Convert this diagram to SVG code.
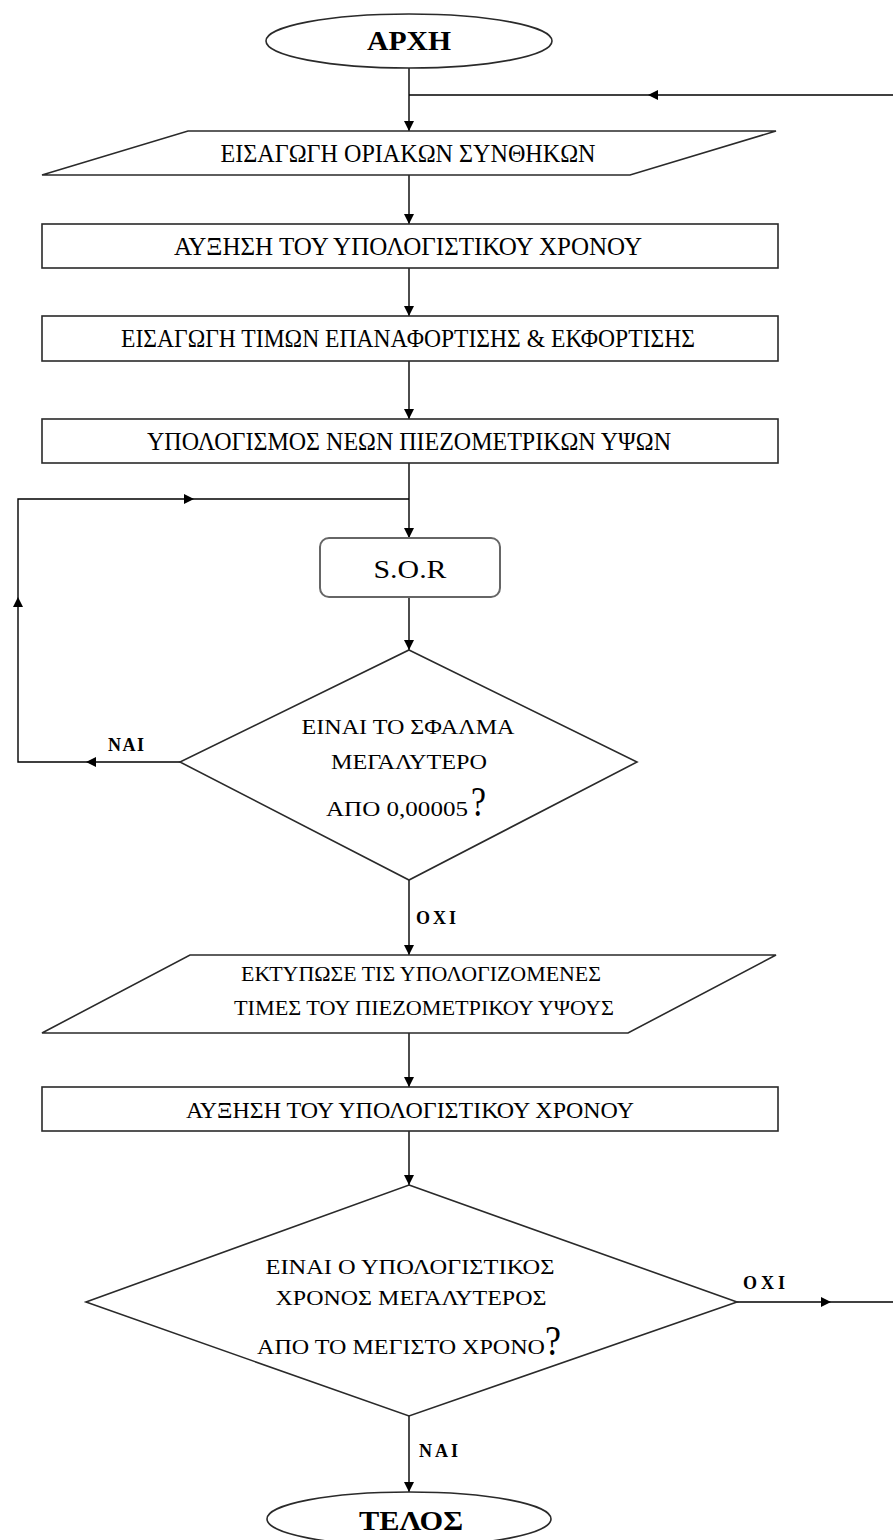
<svg xmlns="http://www.w3.org/2000/svg" width="893" height="1540" viewBox="0 0 893 1540">
<style>
.shape{fill:#fff;stroke:#2a2a2a;stroke-width:1.6}
.ln{fill:none;stroke:#000;stroke-width:1.4}
.t{font-family:"Liberation Serif","Times New Roman",serif;font-size:26px;fill:#000;text-anchor:middle}
.s{font-size:22px}
.tb{font-family:"Liberation Serif","Times New Roman",serif;font-size:28px;font-weight:bold;fill:#000;text-anchor:middle}
.lb{font-family:"Liberation Serif","Times New Roman",serif;font-size:18px;font-weight:bold;fill:#000}
.q{font-family:"Liberation Serif","Times New Roman",serif;font-size:42px;fill:#000}
</style>
<defs>
<marker id="ah" viewBox="0 0 10 10" refX="10" refY="5" markerWidth="10" markerHeight="10" markerUnits="userSpaceOnUse" orient="auto">
<path d="M0,0 L10,5 L0,10 z" fill="#000"/>
</marker>
</defs>
<rect width="893" height="1540" fill="#fff"/>

<g id="connectors">
<line class="ln" x1="409" y1="68" x2="409" y2="131" marker-end="url(#ah)"/>
<line class="ln" x1="893" y1="95" x2="648" y2="95" marker-end="url(#ah)"/>
<line class="ln" x1="648" y1="95" x2="409" y2="95"/>
<line class="ln" x1="409" y1="175" x2="409" y2="224" marker-end="url(#ah)"/>
<line class="ln" x1="409" y1="268" x2="409" y2="316" marker-end="url(#ah)"/>
<line class="ln" x1="409" y1="361" x2="409" y2="419" marker-end="url(#ah)"/>
<line class="ln" x1="409" y1="463" x2="409" y2="538" marker-end="url(#ah)"/>
<line class="ln" x1="180" y1="762" x2="86" y2="762" marker-end="url(#ah)"/>
<path class="ln" d="M86,762 H18 V597" marker-end="url(#ah)"/>
<path class="ln" d="M18,597 V499 H194" marker-end="url(#ah)"/>
<line class="ln" x1="194" y1="499" x2="409" y2="499"/>
<line class="ln" x1="409" y1="597" x2="409" y2="650" marker-end="url(#ah)"/>
<line class="ln" x1="409" y1="880" x2="409" y2="955" marker-end="url(#ah)"/>
<line class="ln" x1="409" y1="1033" x2="409" y2="1087" marker-end="url(#ah)"/>
<line class="ln" x1="409" y1="1131" x2="409" y2="1185" marker-end="url(#ah)"/>
<line class="ln" x1="737" y1="1302" x2="831" y2="1302" marker-end="url(#ah)"/>
<line class="ln" x1="831" y1="1302" x2="893" y2="1302"/>
<line class="ln" x1="409" y1="1416" x2="409" y2="1492" marker-end="url(#ah)"/>
<text class="lb" x="108" y="751" textLength="36" lengthAdjust="spacing">ΝΑΙ</text>
<text class="lb" x="416" y="924" textLength="40" lengthAdjust="spacing">ΟΧΙ</text>
<text class="lb" x="743" y="1289" textLength="42" lengthAdjust="spacing">ΟΧΙ</text>
<text class="lb" x="419" y="1457" textLength="39" lengthAdjust="spacing">ΝΑΙ</text>
</g>

<g id="start">
<ellipse class="shape" cx="409" cy="41" rx="143" ry="27"/>
<text class="tb" x="409" y="50" textLength="84" lengthAdjust="spacingAndGlyphs">ΑΡΧΗ</text>
</g>

<g id="input-boundary">
<polygon class="shape" points="188,131 776,131 630,175 42,175"/>
<text class="t" x="408" y="162" textLength="375" lengthAdjust="spacingAndGlyphs">ΕΙΣΑΓΩΓΗ  ΟΡΙΑΚΩΝ  ΣΥΝΘΗΚΩΝ</text>
</g>

<g id="increase-time-1">
<rect class="shape" x="42" y="224" width="736" height="44"/>
<text class="t" x="408" y="255" textLength="468" lengthAdjust="spacingAndGlyphs">ΑΥΞΗΣΗ  ΤΟΥ  ΥΠΟΛΟΓΙΣΤΙΚΟΥ  ΧΡΟΝΟΥ</text>
</g>

<g id="input-values">
<rect class="shape" x="42" y="316" width="736" height="45"/>
<text class="t" x="408" y="347" textLength="574" lengthAdjust="spacingAndGlyphs">ΕΙΣΑΓΩΓΗ  ΤΙΜΩΝ  ΕΠΑΝΑΦΟΡΤΙΣΗΣ &amp; ΕΚΦΟΡΤΙΣΗΣ</text>
</g>

<g id="compute-heads">
<rect class="shape" x="42" y="419" width="736" height="44"/>
<text class="t" x="409" y="450" textLength="524" lengthAdjust="spacingAndGlyphs">ΥΠΟΛΟΓΙΣΜΟΣ  ΝΕΩΝ  ΠΙΕΖΟΜΕΤΡΙΚΩΝ  ΥΨΩΝ</text>
</g>

<g id="sor">
<rect class="shape" x="320" y="538" width="180" height="59" rx="9" ry="9" style="stroke:#666;stroke-width:2"/>
<text class="t" x="410" y="578" textLength="73" lengthAdjust="spacingAndGlyphs">S.O.R</text>
</g>

<g id="decision-error">
<polygon class="shape" points="409,650 637,762 409,880 180,762"/>
<text class="t s" x="408" y="734" textLength="213" lengthAdjust="spacingAndGlyphs">ΕΙΝΑΙ ΤΟ  ΣΦΑΛΜΑ</text>
<text class="t s" x="409" y="769" textLength="156" lengthAdjust="spacingAndGlyphs">ΜΕΓΑΛΥΤΕΡΟ</text>
<text class="t s" x="397" y="816" textLength="142" lengthAdjust="spacingAndGlyphs">ΑΠΟ  0,00005</text>
<text class="q" x="471" y="816" textLength="15" lengthAdjust="spacingAndGlyphs">?</text>
</g>

<g id="print-values">
<polygon class="shape" points="190,955 776,955 628,1033 42,1033"/>
<text class="t s" x="421" y="981" textLength="360" lengthAdjust="spacingAndGlyphs">ΕΚΤΥΠΩΣΕ  ΤΙΣ  ΥΠΟΛΟΓΙΖΟΜΕΝΕΣ</text>
<text class="t s" x="424" y="1015" textLength="380" lengthAdjust="spacingAndGlyphs">ΤΙΜΕΣ  ΤΟΥ ΠΙΕΖΟΜΕΤΡΙΚΟΥ  ΥΨΟΥΣ</text>
</g>

<g id="increase-time-2">
<rect class="shape" x="42" y="1087" width="736" height="44"/>
<text class="t" x="410" y="1118" style="font-size:24px" textLength="448" lengthAdjust="spacingAndGlyphs">ΑΥΞΗΣΗ ΤΟΥ ΥΠΟΛΟΓΙΣΤΙΚΟΥ ΧΡΟΝΟΥ</text>
</g>

<g id="decision-time">
<polygon class="shape" points="409,1185 737,1302 409,1416 86,1302"/>
<text class="t s" x="410" y="1274" textLength="289" lengthAdjust="spacingAndGlyphs">ΕΙΝΑΙ  Ο  ΥΠΟΛΟΓΙΣΤΙΚΟΣ</text>
<text class="t s" x="411" y="1305" textLength="271" lengthAdjust="spacingAndGlyphs">ΧΡΟΝΟΣ ΜΕΓΑΛΥΤΕΡΟΣ</text>
<text class="t s" x="401" y="1354" textLength="288" lengthAdjust="spacingAndGlyphs">ΑΠΟ  ΤΟ ΜΕΓΙΣΤΟ  ΧΡΟΝΟ</text>
<text class="q" x="545" y="1355" textLength="16" lengthAdjust="spacingAndGlyphs">?</text>
</g>

<g id="end">
<ellipse class="shape" cx="409" cy="1519" rx="142" ry="27"/>
<text class="tb" x="411" y="1530" textLength="104" lengthAdjust="spacingAndGlyphs">ΤΕΛΟΣ</text>
</g>
</svg>
